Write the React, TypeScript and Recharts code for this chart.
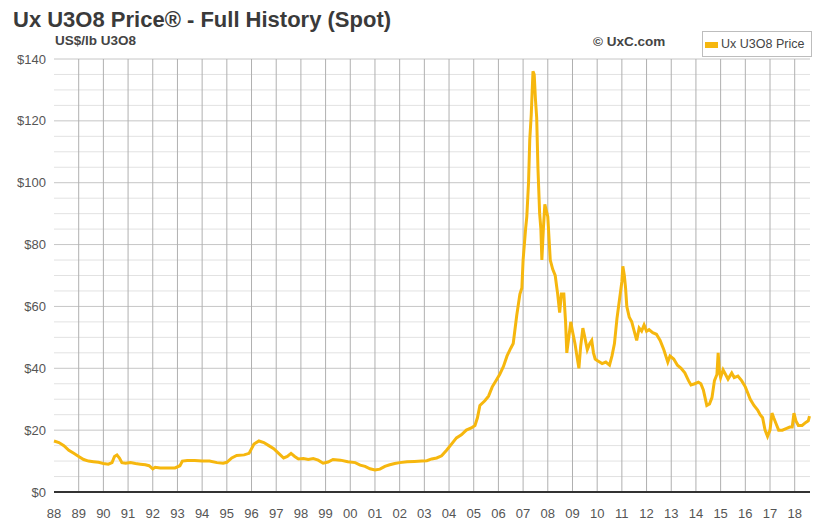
import React from "react";
import { LineChart, Line, XAxis, YAxis, CartesianGrid, ReferenceLine } from "recharts";

// time in fractional years, spot price in US$/lb
const years = [
  1988.0, 1988.2, 1988.4, 1988.6, 1988.8, 1989.0, 1989.2, 1989.4, 1989.6, 1989.8,
  1990.0, 1990.2, 1990.35, 1990.45, 1990.55, 1990.65, 1990.75, 1990.9, 1991.1, 1991.3,
  1991.5, 1991.7, 1991.85, 1992.0, 1992.1, 1992.3, 1992.6, 1992.9, 1993.1, 1993.2,
  1993.4, 1993.7, 1994.0, 1994.3, 1994.6, 1994.85, 1995.0, 1995.2, 1995.4, 1995.7,
  1995.9, 1996.1, 1996.3, 1996.5, 1996.7, 1996.9, 1997.1, 1997.3, 1997.45, 1997.6,
  1997.75, 1997.9, 1998.1, 1998.3, 1998.5, 1998.7, 1998.9, 1999.1, 1999.3, 1999.6,
  1999.9, 2000.2, 2000.4, 2000.6, 2000.8, 2001.0, 2001.2, 2001.4, 2001.6, 2001.8,
  2002.0, 2002.3, 2002.6, 2002.9, 2003.1, 2003.3, 2003.5, 2003.7, 2003.9, 2004.1,
  2004.3, 2004.5, 2004.7, 2004.9, 2005.05, 2005.15, 2005.25, 2005.45, 2005.6, 2005.75,
  2005.9, 2006.05, 2006.2, 2006.35, 2006.5, 2006.6, 2006.74, 2006.87, 2006.95, 2007.0,
  2007.1, 2007.15, 2007.22, 2007.27, 2007.33, 2007.4, 2007.45, 2007.5, 2007.55, 2007.6,
  2007.67, 2007.72, 2007.76, 2007.82, 2007.88, 2007.94, 2008.0, 2008.05, 2008.1, 2008.2,
  2008.3, 2008.4, 2008.48, 2008.55, 2008.65, 2008.72, 2008.77, 2008.85, 2008.93, 2009.0,
  2009.1, 2009.18, 2009.26, 2009.33, 2009.42, 2009.5, 2009.6, 2009.7, 2009.78, 2009.85,
  2009.92, 2010.0, 2010.1, 2010.2, 2010.35, 2010.5, 2010.6, 2010.7, 2010.8, 2010.9,
  2011.0, 2011.04, 2011.1, 2011.15, 2011.2, 2011.3, 2011.4, 2011.5, 2011.6, 2011.7,
  2011.8, 2011.9, 2012.0, 2012.1, 2012.25, 2012.4, 2012.55, 2012.7, 2012.86, 2012.95,
  2013.1, 2013.25, 2013.4, 2013.55, 2013.7, 2013.8, 2013.95, 2014.1, 2014.2, 2014.3,
  2014.44, 2014.55, 2014.65, 2014.75, 2014.85, 2014.9, 2014.95, 2015.0, 2015.1, 2015.2,
  2015.3, 2015.45, 2015.55, 2015.7, 2015.85, 2016.0, 2016.1, 2016.2, 2016.35, 2016.5,
  2016.6, 2016.7, 2016.8, 2016.9, 2017.0, 2017.08, 2017.15, 2017.25, 2017.35, 2017.5,
  2017.65, 2017.8, 2017.9, 2017.97, 2018.05, 2018.15, 2018.3, 2018.45, 2018.55, 2018.6,
];

const prices = [
  16.5, 16, 15, 13.5, 12.5, 11.5, 10.5, 10, 9.8, 9.6,
  9.2, 9, 9.5, 11.5, 12, 11, 9.5, 9.3, 9.5, 9.2,
  9, 8.8, 8.5, 7.5, 8, 7.8, 7.8, 7.8, 8.5, 10,
  10.2, 10.2, 10, 10, 9.5, 9.3, 9.6, 11, 11.8, 12,
  12.5, 15.5, 16.5, 16, 15, 14, 12.5, 11, 11.5, 12.5,
  11.5, 10.7, 10.8, 10.5, 10.8, 10.3, 9.3, 9.7, 10.5, 10.3,
  9.8, 9.5, 8.7, 8.3, 7.5, 7.1, 7.4, 8.3, 8.8, 9.2,
  9.5, 9.8, 9.9, 10, 10.1, 10.7, 11, 11.7, 13.5, 15.5,
  17.5, 18.5, 20, 20.7, 21.5, 24, 28, 29.5, 31, 34,
  36, 38, 40.5, 44, 46.5, 48, 57, 64, 66, 75,
  85, 89, 100, 114, 122, 136, 135, 127, 121, 105,
  90, 85, 75, 85, 93, 91, 89, 82, 75, 72,
  70, 64, 58, 64, 64, 55, 45, 50, 55, 52,
  48, 44, 40, 47, 53, 50, 46, 48, 49, 45,
  43, 42.5, 42, 41.5, 42, 41, 44, 48, 56, 62,
  68, 73, 70, 66, 60, 56.5, 55, 52, 49, 53,
  52, 54, 52, 52.5, 51.5, 51, 49, 46, 42, 44,
  43, 41, 40, 38.5, 36, 34.6, 35, 35.5, 35, 33,
  28, 28.5, 30.5, 36, 38, 45, 39, 37, 39.5, 38,
  36.5, 38.5, 37, 37.5, 36, 34, 32, 30, 28, 26.5,
  25, 24, 20, 18, 20, 25.5, 24, 22, 20, 20,
  20.5, 21, 21, 25.5, 23, 21.5, 21.5, 22.5, 23, 24.5,
];

const yearTicks = [
  1988, 1989, 1990, 1991, 1992, 1993, 1994, 1995, 1996, 1997, 1998, 1999, 2000, 2001, 2002, 2003,
  2004, 2005, 2006, 2007, 2008, 2009, 2010, 2011, 2012, 2013, 2014, 2015, 2016, 2017, 2018,
];
const priceTicks = [0, 20, 40, 60, 80, 100, 120, 140];
const minorPrices = [5, 10, 15, 25, 30, 35, 45, 50, 55, 65, 70, 75, 85, 90, 95, 105, 110, 115, 125, 130, 135];

const data = years.map((t, i) => ({ t, price: prices[i] }));

const GOLD = "#F6B70E";
const FONT = "'Liberation Sans', Arial, sans-serif";

export default function App() {
  return (
    <div style={{ position: "absolute", left: 0, top: 0, width: 819, height: 524, background: "#fff", fontFamily: FONT }}>
      <LineChart width={819} height={524} data={data} margin={{ top: 59, right: 9, bottom: 0, left: 4 }}>
        <CartesianGrid vertical={false} stroke="#c6c6c6" strokeWidth={1} />
        {minorPrices.map((v) => (
          <ReferenceLine key={"m" + v} y={v} stroke="#e2e2e2" strokeWidth={1} />
        ))}
        {yearTicks.slice(1).map((y) => (
          <ReferenceLine key={"y" + y} x={y} stroke="#b0b0b0" strokeWidth={1} />
        ))}
        <XAxis
          dataKey="t"
          type="number"
          domain={[1988, 2018.62]}
          ticks={yearTicks}
          tickFormatter={(v) => String(v).slice(2)}
          interval={0}
          height={32}
          tickLine={false}
          tickMargin={11}
          axisLine={{ stroke: "#333", strokeWidth: 2 }}
          tick={{ fill: "#555", fontSize: 13, fontFamily: FONT }}
        />
        <YAxis
          type="number"
          domain={[0, 140]}
          ticks={priceTicks}
          width={50}
          tickLine={false}
          axisLine={false}
          tickFormatter={(v) => `$${v}`}
          tick={{ fill: "#555", fontSize: 13, fontFamily: FONT }}
        />
        <Line
          type="linear"
          dataKey="price"
          stroke={GOLD}
          strokeWidth={3}
          dot={false}
          isAnimationActive={false}
        />
      </LineChart>
      <svg width={819} height={60} style={{ position: "absolute", left: 0, top: 0 }}>
        <text x={13} y={27} fontSize={22} fontWeight="bold" fill="#3a3a3a" fontFamily={FONT}>
          Ux U3O8 Price® - Full History (Spot)
        </text>
        <text x={55} y={45} fontSize={13.5} fontWeight="bold" fill="#444" fontFamily={FONT}>
          US$/lb U3O8
        </text>
        <text x={593} y={46} fontSize={13.5} fontWeight="bold" fill="#444" fontFamily={FONT}>
          © UxC.com
        </text>
        <rect x={702.5} y={31.5} width={109} height={25} fill="#fff" stroke="#bdbdbd" />
        <rect x={705} y={42} width={13} height={6} fill={GOLD} />
        <text x={721} y={48} fontSize={12.5} fill="#444" fontFamily={FONT}>
          Ux U3O8 Price
        </text>
      </svg>
    </div>
  );
}
